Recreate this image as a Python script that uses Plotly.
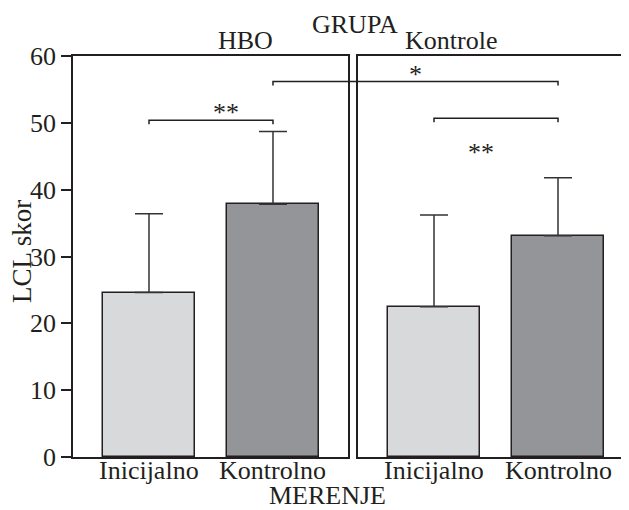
import plotly.graph_objects as go

# ---- data ----
categories = ["Inicijalno", "Kontrolno"]
hbo_mean = [24.6, 37.8]
hbo_sd = [11.8, 10.9]
kontrole_mean = [22.5, 33.1]
kontrole_sd = [13.7, 8.7]
panel_titles = ["HBO", "Kontrole"]
y_ticks = [0, 10, 20, 30, 40, 50, 60]

# ---- style ----
OFF = 8  # page body margin
W, H = 629 - OFF, 510 - OFF
ML, MR, MT, MB = 73 - OFF, 0, 56 - OFF, 510 - 457
FONT = "Liberation Serif, Times New Roman, serif"
FS = 26
INK = "#231f20"
LIGHT = "#d8d9db"
DARK = "#939598"
LW = 1.5

plot_w = W - ML - MR
plot_h = H - MT - MB
dom1 = [0.0, 275 / plot_w]
dom2 = [285 / plot_w, 1.0]
rng1 = [-0.613, 1.605]
rng2 = [-0.613, -0.613 + (dom2[1] - dom2[0]) * plot_w / 124]
yr = [0, 60]


def to_paper(dom, rng, v):
    return dom[0] + (v - rng[0]) / (rng[1] - rng[0]) * (dom[1] - dom[0])


def ypaper(px):
    return 1 + (56 - px) / plot_h


def xpaper(px):
    return (px - 73) / plot_w


fig = go.Figure()

for means, sds, xa, ya in [(hbo_mean, hbo_sd, "x", "y"), (kontrole_mean, kontrole_sd, "x2", "y2")]:
    fig.add_trace(go.Bar(
        x=[0, 1], y=means, xaxis=xa, yaxis=ya, width=0.74,
        marker=dict(color=[LIGHT, DARK], line=dict(color=INK, width=LW)),
        error_y=dict(type="data", symmetric=False, array=sds, arrayminus=[0, 0],
                     color="#333333", thickness=LW, width=14),
        showlegend=False, hoverinfo="skip",
    ))

axis_common = dict(showline=True, linecolor=INK, linewidth=LW, showgrid=False, zeroline=False)
fig.update_layout(
    width=W, height=H,
    margin=dict(l=ML, r=MR, t=MT, b=MB),
    paper_bgcolor="white", plot_bgcolor="white",
    font=dict(family=FONT, size=FS, color=INK),
    bargap=0,
    xaxis=dict(domain=dom1, range=rng1, tickvals=[0, 1], showticklabels=False, ticks="",
               mirror=True, anchor="y", **axis_common),
    xaxis2=dict(domain=dom2, range=rng2, tickvals=[0, 1], showticklabels=False, ticks="",
                mirror=True, anchor="y2", **axis_common),
    yaxis=dict(range=yr, tickvals=y_ticks, ticks="outside", ticklen=10, tickwidth=LW,
               tickcolor=INK, mirror=True, anchor="x", **axis_common),
    yaxis2=dict(range=yr, tickvals=y_ticks, showticklabels=False, ticks="",
                mirror=False, anchor="x2", **axis_common),
)

# category labels under each panel
for xa in ["x", "x2"]:
    for i, cat in enumerate(categories):
        fig.add_annotation(x=i, y=ypaper(470.5), xref=xa, yref="paper", text=cat,
                           showarrow=False, yanchor="middle")

# ---- significance brackets ----
tick = 0.6
def bracket(x0p, x1p, yv):
    pts = [(x0p, yv - tick), (x0p, yv), (x1p, yv), (x1p, yv - tick)]
    path = "M {} {} L {} {} L {} {} L {} {}".format(*[c for p in pts for c in p])
    fig.add_shape(type="path", path=path, xref="paper", yref="y",
                  line=dict(color=INK, width=LW))

# HBO: Inicijalno vs Kontrolno
a0 = to_paper(dom1, rng1, 0)
a1 = to_paper(dom1, rng1, 1)
bracket(a0, a1, 50.4)
fig.add_annotation(x=(a0 + a1) / 2, y=50.4, xref="paper", yref="y", text="**",
                   showarrow=False, yanchor="bottom", yshift=-9)

# HBO Kontrolno vs Kontrole Kontrolno
b0 = to_paper(dom1, rng1, 1)
b1 = to_paper(dom2, rng2, 1)
bracket(b0, b1, 56.2)
fig.add_annotation(x=(b0 + b1) / 2, y=56.2, xref="paper", yref="y", text="*",
                   showarrow=False, yanchor="bottom", yshift=-10)

# Kontrole: Inicijalno vs Kontrolno
c0 = to_paper(dom2, rng2, 0)
c1 = to_paper(dom2, rng2, 1)
bracket(c0, c1, 50.7)
fig.add_annotation(x=(c0 + c1) / 2, y=45.5, xref="paper", yref="y", text="**",
                   showarrow=False, yanchor="middle")

# ---- titles ----
fig.add_annotation(x=xpaper(355), y=ypaper(24), xref="paper", yref="paper",
                   text="GRUPA", showarrow=False, yanchor="middle")
fig.add_annotation(x=xpaper(216), y=ypaper(40), xref="paper", yref="paper",
                   text=panel_titles[0], showarrow=False, yanchor="middle")
fig.add_annotation(x=xpaper(499), y=ypaper(40), xref="paper", yref="paper",
                   text=panel_titles[1], showarrow=False, yanchor="middle")
fig.add_annotation(x=xpaper(22), y=ypaper(252), xref="paper", yref="paper",
                   text="LCL skor", textangle=-90, showarrow=False,
                   xanchor="center", yanchor="middle", font=dict(size=27))
fig.add_annotation(x=xpaper(327), y=ypaper(495), xref="paper", yref="paper",
                   text="MERENJE", showarrow=False, yanchor="middle")

fig.write_html("out.html")
